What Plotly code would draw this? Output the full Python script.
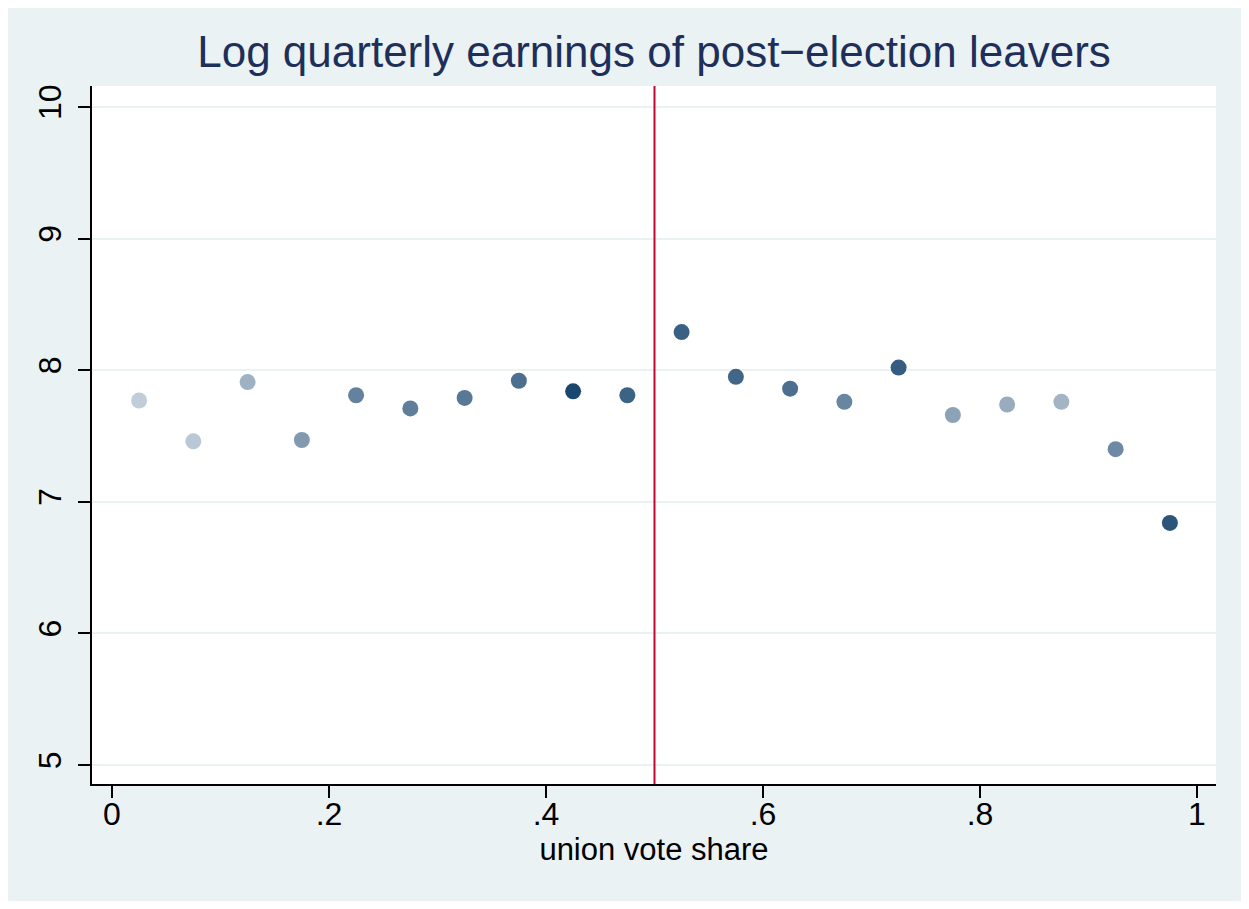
import plotly.graph_objects as go

# bin midpoints of union vote share
vote_share = [0.025, 0.075, 0.125, 0.175, 0.225, 0.275, 0.325, 0.375, 0.425, 0.475,
              0.525, 0.575, 0.625, 0.675, 0.725, 0.775, 0.825, 0.875, 0.925, 0.975]
log_earnings = [7.77, 7.46, 7.91, 7.47, 7.81, 7.71, 7.79, 7.92, 7.84, 7.81,
                8.29, 7.95, 7.86, 7.76, 8.02, 7.66, 7.74, 7.76, 7.40, 6.84]
# relative bin weight (drives marker shading)
bin_weight = [0.27, 0.30, 0.42, 0.55, 0.68, 0.70, 0.73, 0.78, 1.00, 0.85,
              0.86, 0.83, 0.78, 0.66, 0.88, 0.50, 0.45, 0.40, 0.64, 0.92]
cutoff = 0.5

x_ticks = [0, 0.2, 0.4, 0.6, 0.8, 1]
x_labels = ["0", ".2", ".4", ".6", ".8", "1"]
y_ticks = [5, 6, 7, 8, 9, 10]

bg = "#EAF2F3"
marker_colors = ["rgba(26,71,111,%.2f)" % w for w in bin_weight]

fig = go.Figure()
fig.add_trace(go.Scatter(x=vote_share, y=log_earnings, mode="markers",
                         marker=dict(size=16, color=marker_colors, line=dict(width=0)),
                         showlegend=False))

fig.add_vline(x=cutoff, line_color="#C10534", line_width=2)

# page body adds an 8px margin, so the figure is sized to fit inside it
fig.update_layout(
    width=1233, height=893,
    paper_bgcolor=bg, plot_bgcolor="white",
    margin=dict(l=84, r=25, t=78, b=117),
    font=dict(family="Liberation Sans, Arial, sans-serif", size=32, color="black"),
    title=dict(text="Log quarterly earnings of post\u2212election leavers",
               xref="paper", x=0.5, xanchor="center", y=0.9507, yanchor="middle",
               font=dict(size=44, color="#1E2F5A")),
    xaxis=dict(range=[-0.0184, 1.0175], tickvals=x_ticks, ticktext=x_labels,
               tickfont=dict(size=32), ticklabelstandoff=-11,
               showgrid=False, zeroline=False, showline=True, linecolor="black",
               linewidth=1.5, ticks="outside", ticklen=12, tickwidth=1.5,
               tickcolor="black",
               title=dict(text="union vote share", font=dict(size=31), standoff=0)),
    yaxis=dict(range=[4.856, 10.16], tickvals=y_ticks, tickangle=-90,
               tickfont=dict(size=32), ticklabelstandoff=4,
               showgrid=True, gridcolor=bg, gridwidth=2, zeroline=False,
               showline=True, linecolor="black", linewidth=1.5,
               ticks="outside", ticklen=12, tickwidth=1.5, tickcolor="black"),
)

fig.write_html("out.html")
